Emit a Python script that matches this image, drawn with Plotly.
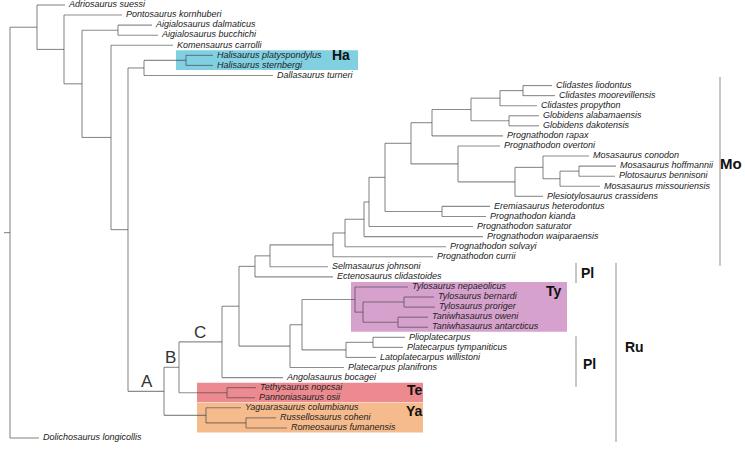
import plotly.graph_objects as go

# ---------------- data ----------------
TAXA = [
    "Adriosaurus suessi", "Pontosaurus kornhuberi", "Aigialosaurus dalmaticus",
    "Aigialosaurus bucchichi", "Komensaurus carrolli", "Halisaurus platyspondylus",
    "Halisaurus sternbergi", "Dallasaurus turneri", "Clidastes liodontus",
    "Clidastes moorevillensis", "Clidastes propython", "Globidens alabamaensis",
    "Globidens dakotensis", "Prognathodon rapax", "Prognathodon overtoni",
    "Mosasaurus conodon", "Mosasaurus hoffmannii", "Plotosaurus bennisoni",
    "Mosasaurus missouriensis", "Plesiotylosaurus crassidens",
    "Eremiasaurus heterodontus", "Prognathodon kianda", "Prognathodon saturator",
    "Prognathodon waiparaensis", "Prognathodon solvayi", "Prognathodon currii",
    "Selmasaurus johnsoni", "Ectenosaurus clidastoides", "Tylosaurus nepaeolicus",
    "Tylosaurus bernardi", "Tylosaurus proriger", "Taniwhasaurus oweni",
    "Taniwhasaurus antarcticus", "Plioplatecarpus", "Platecarpus tympaniticus",
    "Latoplatecarpus willistoni", "Platecarpus planifrons", "Angolasaurus bocagei",
    "Tethysaurus nopcsai", "Pannoniasaurus osii", "Yaguarasaurus columbianus",
    "Russellosaurus coheni", "Romeosaurus fumanensis", "Dolichosaurus longicollis",
]
# depth (horizontal position) at which each tip branch ends
TIP_DEPTH = [65, 122, 152, 158, 173, 213, 213, 273, 552, 555, 537, 539, 539,
             503, 500, 589, 616, 615, 600, 543, 490, 486, 473, 483, 446, 433,
             328, 333, 408, 434, 435, 428, 428, 405, 403, 376, 344, 283, 256,
             255, 241, 276, 287, 39]

# internal nodes: id, depth, children (tip names or node ids)
NODE_ID = ["root", "c1", "c2", "c3", "aig", "c4", "c5", "hd", "hal", "A", "B",
           "te", "ya", "rus", "C", "D", "E", "G", "H", "I", "M", "L", "K",
           "erem", "mos_all", "rap", "cg", "clp", "cli", "glob", "ovt", "mp",
           "mos", "mh", "hp", "F", "N", "ty", "O", "bp", "tan", "plg", "pp"]
NODE_DEPTH = [10, 37, 64, 82, 118, 111, 128, 144, 186, 164, 179,
              227, 206, 246, 222, 239, 255, 270, 333, 345, 364, 369, 385,
              442, 411, 432, 471, 500, 523, 509, 458, 515,
              543, 560, 579, 290, 302, 355, 363, 404, 398, 346, 373]
NODE_CHILDREN = [
    ["c1", "Dolichosaurus longicollis"],
    ["Adriosaurus suessi", "c2"],
    ["Pontosaurus kornhuberi", "c3"],
    ["aig", "c4"],
    ["Aigialosaurus dalmaticus", "Aigialosaurus bucchichi"],
    ["Komensaurus carrolli", "c5"],
    ["hd", "A"],
    ["hal", "Dallasaurus turneri"],
    ["Halisaurus platyspondylus", "Halisaurus sternbergi"],
    ["B", "ya"],
    ["C", "te"],
    ["Tethysaurus nopcsai", "Pannoniasaurus osii"],
    ["Yaguarasaurus columbianus", "rus"],
    ["Russellosaurus coheni", "Romeosaurus fumanensis"],
    ["D", "Angolasaurus bocagei"],
    ["E", "F"],
    ["G", "Ectenosaurus clidastoides"],
    ["H", "Selmasaurus johnsoni"],
    ["I", "Prognathodon currii"],
    ["M", "Prognathodon solvayi"],
    ["L", "Prognathodon waiparaensis"],
    ["K", "Prognathodon saturator"],
    ["mos_all", "erem"],
    ["Eremiasaurus heterodontus", "Prognathodon kianda"],
    ["rap", "ovt"],
    ["cg", "Prognathodon rapax"],
    ["clp", "glob"],
    ["cli", "Clidastes propython"],
    ["Clidastes liodontus", "Clidastes moorevillensis"],
    ["Globidens alabamaensis", "Globidens dakotensis"],
    ["Prognathodon overtoni", "mp"],
    ["mos", "Plesiotylosaurus crassidens"],
    ["Mosasaurus conodon", "mh"],
    ["hp", "Mosasaurus missouriensis"],
    ["Mosasaurus hoffmannii", "Plotosaurus bennisoni"],
    ["N", "Platecarpus planifrons"],
    ["ty", "plg"],
    ["Tylosaurus nepaeolicus", "O"],
    ["bp", "tan"],
    ["Tylosaurus bernardi", "Tylosaurus proriger"],
    ["Taniwhasaurus oweni", "Taniwhasaurus antarcticus"],
    ["pp", "Latoplatecarpus willistoni"],
    ["Plioplatecarpus", "Platecarpus tympaniticus"],
]

# highlighted clades: label, first tip, last tip
BOX_LABELS = ["Ha", "Ty", "Te", "Ya"]
BOX_FIRST = ["Halisaurus platyspondylus", "Tylosaurus nepaeolicus",
             "Tethysaurus nopcsai", "Yaguarasaurus columbianus"]
BOX_LAST = ["Halisaurus sternbergi", "Taniwhasaurus antarcticus",
            "Pannoniasaurus osii", "Romeosaurus fumanensis"]

# brackets on the right: label, first tip, last tip
BRACKET_LABELS = ["Mo", "Pl", "Pl", "Ru"]
BRACKET_FIRST = ["Clidastes liodontus", "Selmasaurus johnsoni",
                 "Plioplatecarpus", "Selmasaurus johnsoni"]
BRACKET_LAST = ["Prognathodon currii", "Ectenosaurus clidastoides",
                "Platecarpus planifrons", "Romeosaurus fumanensis"]

NODE_LABELS = ["A", "B", "C"]

# ---------------- styles / layout ----------------
W, H = 745, 453
Y_TOP_PX, Y_STEP_PX = 5.0, 10.07
LINE_COLOR = "rgba(70,70,70,0.62)"
FONT = "Liberation Sans, Arial, sans-serif"
BOX_STYLE = {
    "Ha": dict(color="#80d0e2", x0=176, x1=358, lx=330, ly=-0.05),
    "Ty": dict(color="#d6a1cd", x0=351, x1=567, lx=544, ly=0.4),
    "Te": dict(color="#ec8a8f", x0=197, x1=423, lx=405, ly=0.25),
    "Ya": dict(color="#f6bb8d", x0=197, x1=423, lx=404, ly=0.3),
}
BRACKET_STYLE = [
    dict(x=720, pad0=-0.85, pad1=0.9, lx=744, anchor="right", ly=7.7, size=15),
    dict(x=576, pad0=-0.4, pad1=0.6, lx=579, anchor="left", ly=0.6, size=14),
    dict(x=576, pad0=-0.1, pad1=1.9, lx=581, anchor="left", ly=2.65, size=14),
    dict(x=616, pad0=-0.4, pad1=1.4, lx=623, anchor="left", ly=8.0, size=14),
]
NODE_LABEL_POS = {"A": (-17, -0.4), "B": (-9, -0.4), "C": (-22, -0.4)}

# ---------------- layout computation ----------------
tip_y = {name: i for i, name in enumerate(TAXA)}
x_of = {name: d for name, d in zip(TAXA, TIP_DEPTH)}
x_of.update({n: d for n, d in zip(NODE_ID, NODE_DEPTH)})
children = dict(zip(NODE_ID, NODE_CHILDREN))
y_of = dict(tip_y)


def node_y(n):
    if n in y_of:
        return y_of[n]
    ys = [node_y(c) for c in children[n]]
    y_of[n] = (min(ys) + max(ys)) / 2
    return y_of[n]


for n in NODE_ID:
    node_y(n)

xs, ys = [], []
# root stem
xs += [x_of["root"] - 6, x_of["root"], None]
ys += [y_of["root"], y_of["root"], None]
for n in NODE_ID:
    cy = [y_of[c] for c in children[n]]
    xs += [x_of[n], x_of[n], None]
    ys += [min(cy), max(cy), None]
    for c in children[n]:
        xs += [x_of[n], x_of[c], None]
        ys += [y_of[c], y_of[c], None]

fig = go.Figure()
fig.add_trace(go.Scatter(x=xs, y=ys, mode="lines",
                         line=dict(color=LINE_COLOR, width=1.1),
                         hoverinfo="skip", showlegend=False))
fig.add_trace(go.Scatter(
    x=[d + 4 for d in TIP_DEPTH], y=list(range(len(TAXA))),
    mode="text", text=TAXA, textposition="middle right",
    textfont=dict(family=FONT, size=9, color="#222222", style="italic"),
    hoverinfo="skip", showlegend=False))

shapes, annotations = [], []
for lab, f, l in zip(BOX_LABELS, BOX_FIRST, BOX_LAST):
    st = BOX_STYLE[lab]
    shapes.append(dict(type="rect", layer="below", xref="x", yref="y",
                       x0=st["x0"], x1=st["x1"],
                       y0=tip_y[f] - 0.5, y1=tip_y[l] + 0.45,
                       fillcolor=st["color"], line=dict(width=0)))
    annotations.append(dict(x=st["lx"], y=tip_y[f] + st["ly"], text="<b>%s</b>" % lab,
                            xanchor="left", yanchor="middle", showarrow=False,
                            font=dict(family=FONT, size=14, color="#111111")))

for lab, f, l, st in zip(BRACKET_LABELS, BRACKET_FIRST, BRACKET_LAST, BRACKET_STYLE):
    shapes.append(dict(type="line", xref="x", yref="y", x0=st["x"], x1=st["x"],
                       y0=tip_y[f] + st["pad0"], y1=tip_y[l] + st["pad1"],
                       line=dict(color="#a0a0a0", width=1.2)))
    annotations.append(dict(x=st["lx"], y=tip_y[f] + st["ly"], text="<b>%s</b>" % lab,
                            xanchor=st["anchor"], yanchor="middle", showarrow=False,
                            font=dict(family=FONT, size=st["size"], color="#111111")))

for lab in NODE_LABELS:
    dx, dy = NODE_LABEL_POS[lab]
    annotations.append(dict(x=x_of[lab] + dx, y=y_of[lab] - 0.55 + dy, text=lab,
                            xanchor="center", yanchor="middle", showarrow=False,
                            font=dict(family=FONT, size=17, color="#333333")))

y_min = -Y_TOP_PX / Y_STEP_PX
y_max = y_min + H / Y_STEP_PX
fig.update_layout(
    width=W, height=H, margin=dict(l=0, r=0, t=0, b=0),
    paper_bgcolor="white", plot_bgcolor="white",
    xaxis=dict(range=[0, W], visible=False, fixedrange=True),
    yaxis=dict(range=[y_max, y_min], visible=False, fixedrange=True),
    shapes=shapes, annotations=annotations, showlegend=False,
)
fig.write_html(
    "out.html",
    config={"displayModeBar": False},
    post_script="document.body.style.margin='0';document.body.style.overflow='hidden';",
)
